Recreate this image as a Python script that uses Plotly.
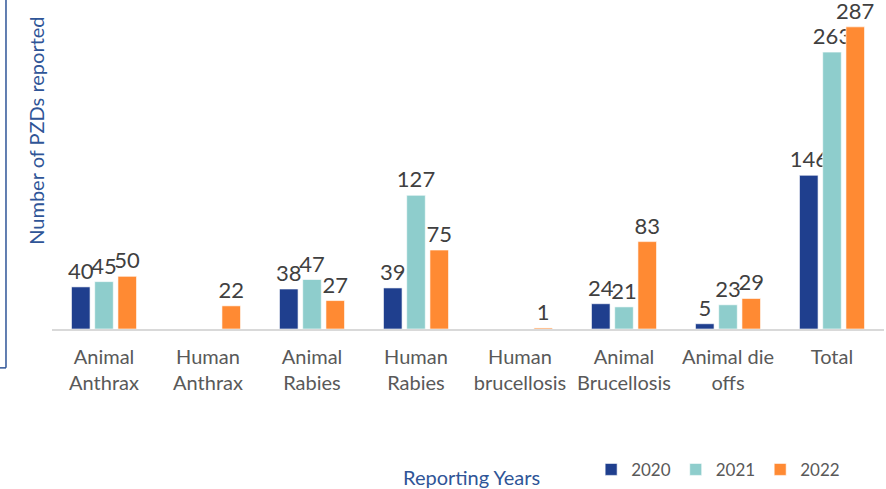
import plotly.graph_objects as go

categories = ["Animal<br>Anthrax", "Human<br>Anthrax", "Animal<br>Rabies", "Human<br>Rabies",
              "Human<br>brucellosis", "Animal<br>Brucellosis", "Animal die<br>offs", "Total"]
years = ["2020", "2021", "2022"]
v2020 = [40, 0, 38, 39, 0, 24, 5, 146]
v2021 = [45, 0, 47, 127, 0, 21, 23, 263]
v2022 = [50, 22, 27, 75, 1, 83, 29, 287]
colors = ["#1F3F8E", "#8ECDCC", "#FF8A33"]

FONT = "Lato, Open Sans, sans-serif"
fig = go.Figure()
for name, vals, col in zip(years, [v2020, v2021, v2022], colors):
    fig.add_trace(go.Bar(
        name=name, x=categories, y=vals,
        marker=dict(color=col, line=dict(color="rgba(255,255,255,0.6)", width=1)),
        text=[str(v) if v else "" for v in vals],
        textposition="outside", constraintext="none", cliponaxis=False,
        textfont=dict(family=FONT, size=22, color="#404040"),
    ))

fig.update_layout(
    width=886, height=489,
    margin=dict(l=52, r=2, t=4, b=159),
    paper_bgcolor="white", plot_bgcolor="white",
    barmode="group", bargap=0.33, bargroupgap=0.2,
    font=dict(family=FONT, color="#595959"),
    showlegend=True,
    legend=dict(orientation="h", x=0.648, y=-0.429, xanchor="left", yanchor="middle",
                font=dict(family=FONT, size=17, color="#595959"), traceorder="normal"),
    xaxis=dict(showline=True, linecolor="#D9D9D9", linewidth=1.5, showgrid=False,
               ticks="outside", ticklen=9, tickcolor="rgba(0,0,0,0)",
               tickfont=dict(family=FONT, size=20, color="#595959")),
    yaxis=dict(range=[0, 308.7], visible=False),
)
fig.add_annotation(text="Reporting Years", xref="paper", yref="paper", x=0.504, y=-0.454,
                   showarrow=False, xanchor="center", yanchor="middle",
                   font=dict(family=FONT, size=20, color="#2F5597"))
fig.add_annotation(text="Number of PZDs reported", xref="paper", yref="paper", x=-0.0192, y=0.610,
                   showarrow=False, textangle=-90, xanchor="center", yanchor="middle",
                   font=dict(family=FONT, size=20, color="#2F5597"))
fig.add_shape(type="line", xref="paper", yref="paper", x0=-0.0553, x1=-0.0553, y0=1.0123, y1=-0.1196,
              line=dict(color="#2F5597", width=1.5))
fig.add_shape(type="line", xref="paper", yref="paper", x0=-0.0625, x1=-0.0553, y0=-0.1196, y1=-0.1196,
              line=dict(color="#2F5597", width=1.5))
fig.write_html("out.html", config={"displayModeBar": False},
               post_script="document.body.style.margin='0px';document.body.style.padding='0px';")
